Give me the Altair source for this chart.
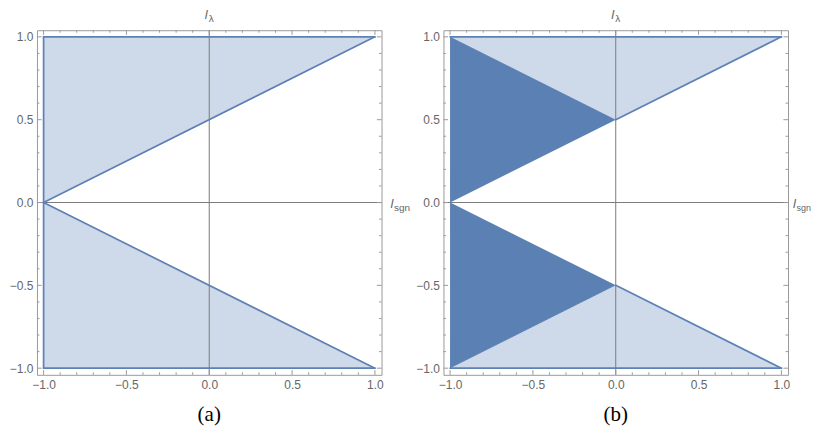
import altair as alt
import pandas as pd

# ---- data ----
light_upper_x = [-1.0, 1.0]
light_upper_hi = [1.0, 1.0]
light_upper_lo = [0.0, 1.0]
light_lower_x = [-1.0, 1.0]
light_lower_hi = [0.0, -1.0]
light_lower_lo = [-1.0, -1.0]

dark_upper_x = [-1.0, 0.0]
dark_upper_hi = [1.0, 0.5]
dark_upper_lo = [0.0, 0.5]
dark_lower_x = [-1.0, 0.0]
dark_lower_hi = [0.0, -0.5]
dark_lower_lo = [-1.0, -0.5]

# boundary segments (x1, y1, x2, y2)
edges_a_x1 = [-1.0, -1.0, -1.0, -1.0, -1.0]
edges_a_y1 = [-1.0, 1.0, -1.0, 0.0, 0.0]
edges_a_x2 = [-1.0, 1.0, 1.0, 1.0, 1.0]
edges_a_y2 = [1.0, 1.0, -1.0, 1.0, -1.0]
edges_b_x1 = [-1.0, -1.0, 0.0, 0.0]
edges_b_y1 = [1.0, -1.0, 0.5, -0.5]
edges_b_x2 = [1.0, 1.0, 1.0, 1.0]
edges_b_y2 = [1.0, -1.0, 1.0, -1.0]

major_ticks = [-1.0, -0.5, 0.0, 0.5, 1.0]
minor_ticks = [-0.9, -0.8, -0.7, -0.6, -0.4, -0.3, -0.2, -0.1,
               0.1, 0.2, 0.3, 0.4, 0.6, 0.7, 0.8, 0.9]
plot_range = [-1.04, 1.04]
captions = ["(a)", "(b)"]

# ---- styles ----
LINE = "#5E81B5"
DARK = "#5B80B4"
AXIS_GRAY = "#7a7a7a"
FRAME_GRAY = "#9a9a9a"
LABEL_GRAY = "#666666"
W = 345
H = 345
MAJOR_LEN = 0.028
MINOR_LEN = 0.015

sx = alt.Scale(domain=plot_range, nice=False, zero=False)
sy = alt.Scale(domain=plot_range, nice=False, zero=False)
AX = alt.Axis(values=major_ticks, format=".1f", ticks=False, domain=False, grid=False,
              title=None, labelPadding=5, labelFlush=False)
AY = alt.Axis(values=major_ticks, format=".1f", ticks=False, domain=False, grid=False,
              title=None, labelPadding=4, labelFlush=False, minExtent=0)


def X(field):
    return alt.X(field, type="quantitative", scale=sx, axis=AX)


def Y(field):
    return alt.Y(field, type="quantitative", scale=sy, axis=AY)


def area_df(xs, lo, hi):
    return pd.DataFrame({"x": xs, "lo": lo, "hi": hi})


def tick_df():
    rows = []
    lo, hi = plot_range
    for vals, ln in ((major_ticks, MAJOR_LEN), (minor_ticks, MINOR_LEN)):
        for t in vals:
            rows.append({"x": t, "y": lo, "x2": t, "y2": lo + ln})
            rows.append({"x": t, "y": hi, "x2": t, "y2": hi - ln})
            rows.append({"x": lo, "y": t, "x2": lo + ln, "y2": t})
            rows.append({"x": hi, "y": t, "x2": hi - ln, "y2": t})
    return pd.DataFrame(rows)


def panel(with_dark, ex1, ey1, ex2, ey2, caption, sgn_gap, sgn_size):
    layers = []
    for xs, lo, hi in ((light_upper_x, light_upper_lo, light_upper_hi),
                       (light_lower_x, light_lower_lo, light_lower_hi)):
        layers.append(
            alt.Chart(area_df(xs, lo, hi)).mark_area(color=LINE, opacity=0.3).encode(
                x=X("x"), y=Y("lo"), y2="hi:Q")
        )
    if with_dark:
        for xs, lo, hi in ((dark_upper_x, dark_upper_lo, dark_upper_hi),
                           (dark_lower_x, dark_lower_lo, dark_lower_hi)):
            layers.append(
                alt.Chart(area_df(xs, lo, hi)).mark_area(color=DARK, opacity=1).encode(
                    x=X("x"), y=Y("lo"), y2="hi:Q")
            )
    # axes through the origin
    origin = pd.DataFrame({"x": [0.0, plot_range[0]], "y": [plot_range[0], 0.0],
                           "x2": [0.0, plot_range[1]], "y2": [plot_range[1], 0.0]})
    layers.append(
        alt.Chart(origin).mark_rule(color=AXIS_GRAY, strokeWidth=1).encode(
            x=X("x"), y=Y("y"), x2="x2:Q", y2="y2:Q")
    )
    # region outlines
    edges = pd.DataFrame({"x": ex1, "y": ey1, "x2": ex2, "y2": ey2})
    layers.append(
        alt.Chart(edges).mark_rule(color=LINE, strokeWidth=1.7, strokeCap="round").encode(
            x=X("x"), y=Y("y"), x2="x2:Q", y2="y2:Q")
    )
    # inward frame ticks
    layers.append(
        alt.Chart(tick_df()).mark_rule(color=FRAME_GRAY, strokeWidth=1).encode(
            x=X("x"), y=Y("y"), x2="x2:Q", y2="y2:Q")
    )
    # axis labels l_lambda (top) and l_sgn (right)
    zero = pd.DataFrame({"x": [0.0], "y": [0.0]})
    layers.append(
        alt.Chart(zero).mark_text(text="l", fontStyle="italic", font="Liberation Sans", fontSize=13,
                                  color=LABEL_GRAY, align="center", baseline="alphabetic", dx=-3).encode(
            x=X("x"), y=alt.value(-11))
    )
    layers.append(
        alt.Chart(zero).mark_text(text="λ", font="Liberation Sans", fontSize=10,
                                  color=LABEL_GRAY, align="center", baseline="alphabetic", dx=2).encode(
            x=X("x"), y=alt.value(-8))
    )
    layers.append(
        alt.Chart(zero).mark_text(text="l", fontStyle="italic", font="Liberation Sans", fontSize=13,
                                  color=LABEL_GRAY, align="left", baseline="alphabetic", dy=5).encode(
            x=alt.value(W + sgn_gap), y=Y("y"))
    )
    layers.append(
        alt.Chart(zero).mark_text(text="sgn", font="Liberation Sans", fontSize=sgn_size,
                                  color=LABEL_GRAY, align="left", baseline="alphabetic", dy=8).encode(
            x=alt.value(W + sgn_gap + 3.5), y=Y("y"))
    )
    # caption
    cap = pd.DataFrame({"x": [0.0], "label": [caption]})
    layers.append(
        alt.Chart(cap).mark_text(font="Liberation Serif", fontSize=21, color="#000000",
                                 align="center", baseline="alphabetic").encode(
            x=X("x"), y=alt.value(H + 46), text="label:N")
    )
    return alt.layer(*layers).properties(width=W, height=H)


chart_a = panel(False, edges_a_x1, edges_a_y1, edges_a_x2, edges_a_y2, captions[0], 9, 10)
chart_b = panel(True, edges_b_x1, edges_b_y1, edges_b_x2, edges_b_y2, captions[1], 5, 9)

chart = alt.hconcat(chart_a, chart_b, spacing=62, bounds="flush").properties(
    padding={"left": 0, "top": 0, "right": 0, "bottom": 0}
).configure_view(
    stroke=FRAME_GRAY, strokeWidth=1
).configure_axis(
    labelFont="Liberation Sans", labelFontSize=12, labelColor=LABEL_GRAY
)

chart.save("out.html", embed_options={"renderer": "svg", "actions": False})
